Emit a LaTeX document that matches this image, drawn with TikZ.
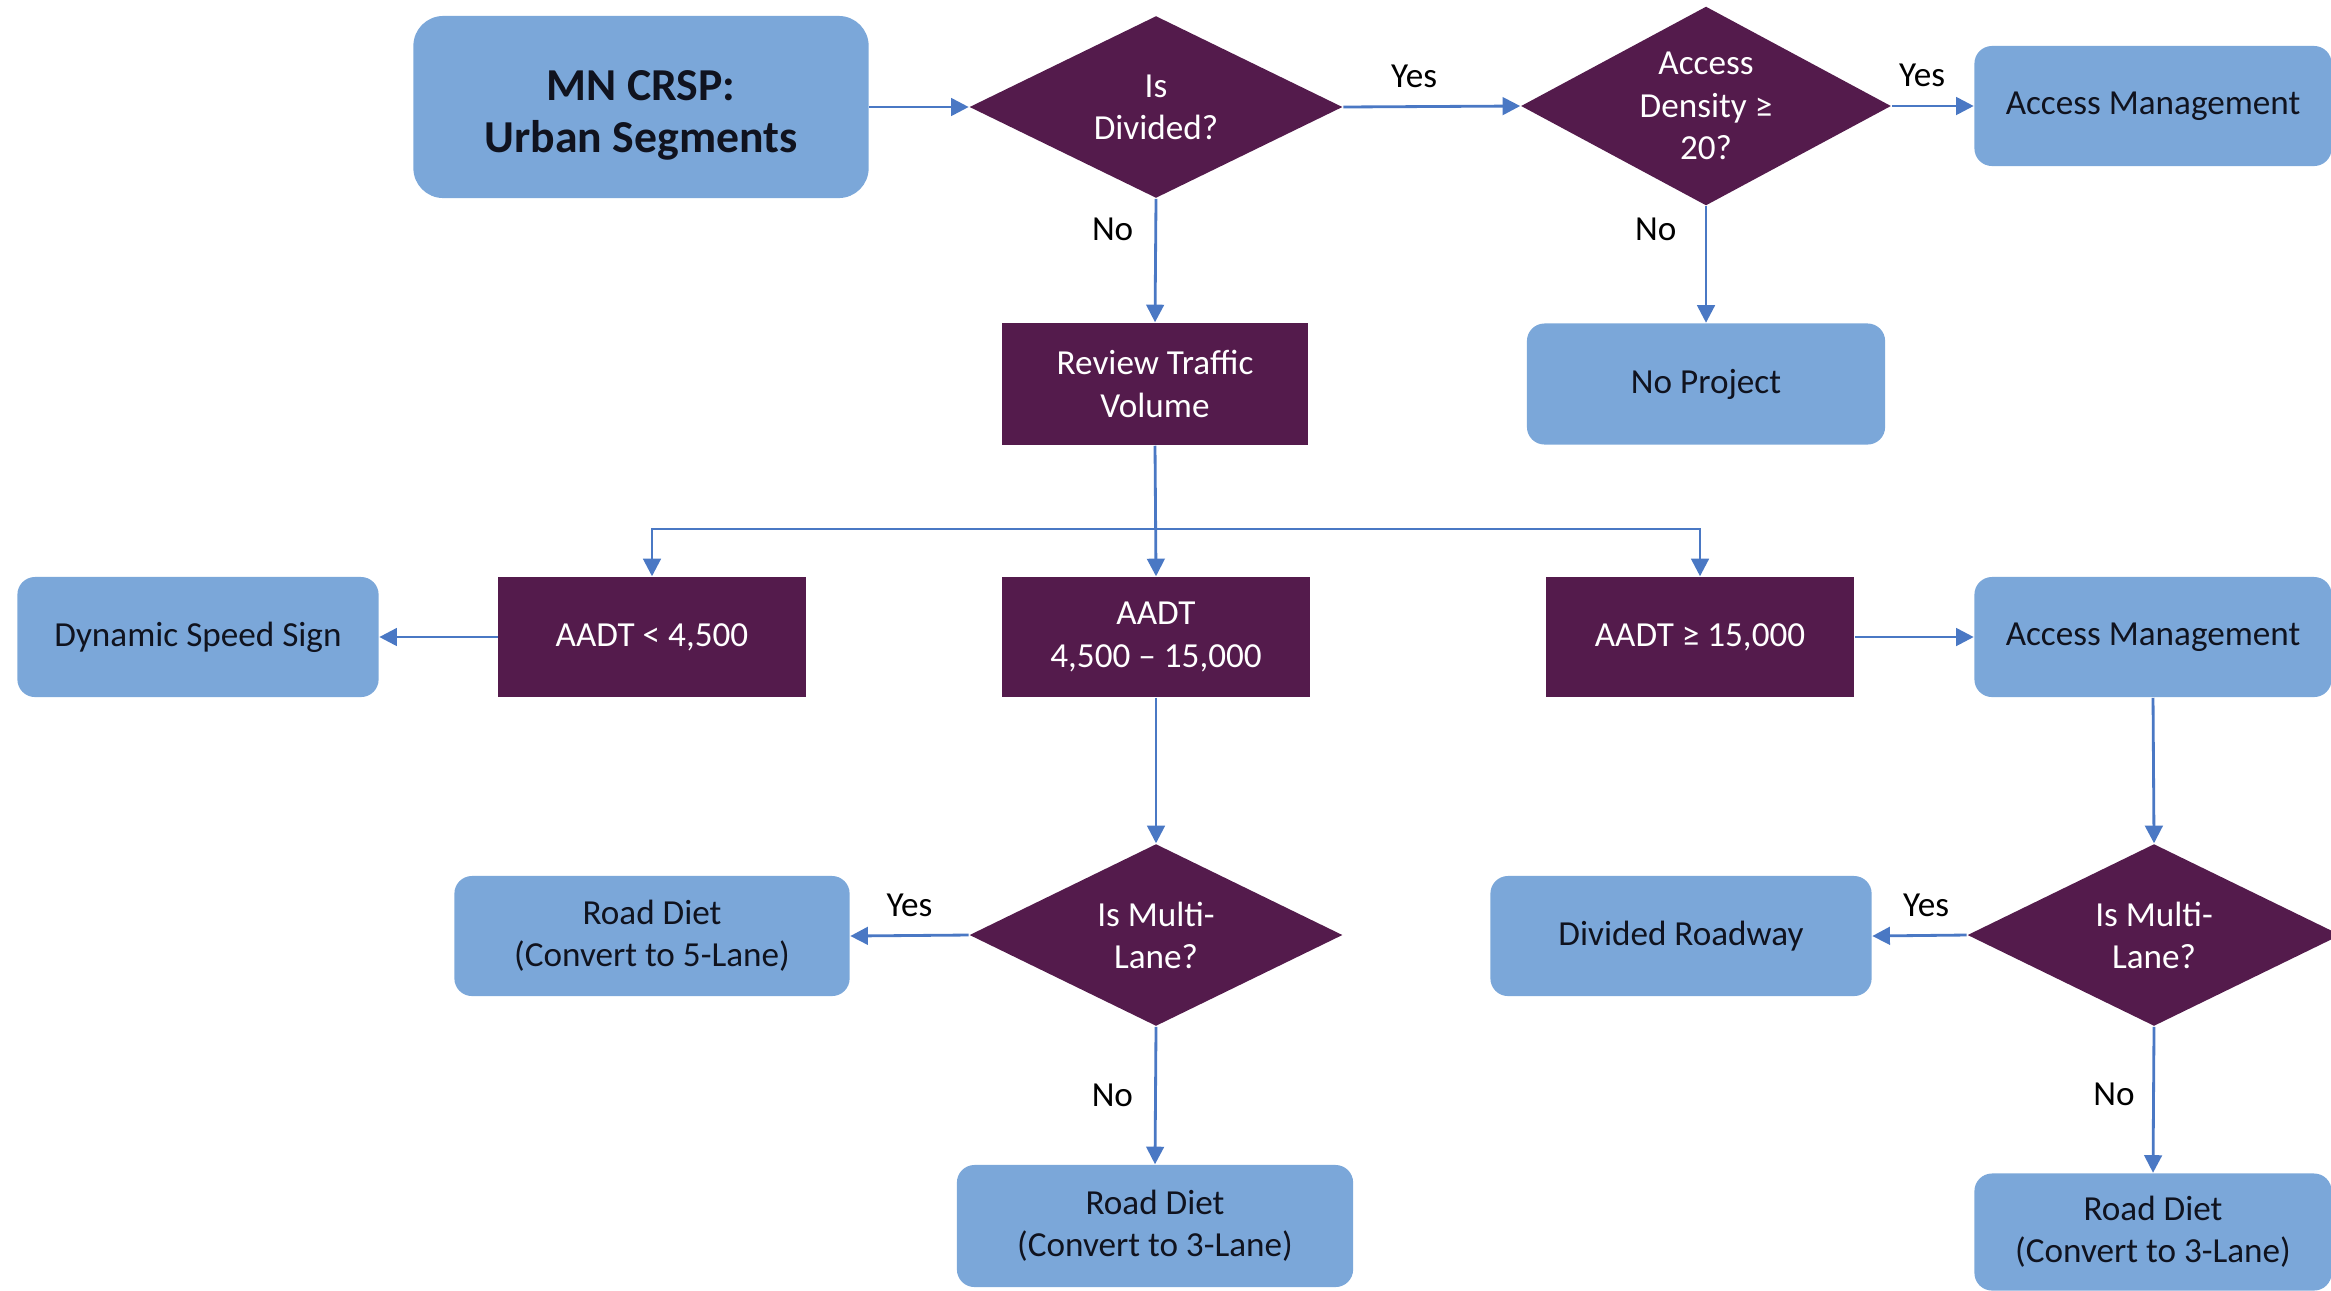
\documentclass[tikz,border=0pt]{standalone}
\usepackage{fontspec}
\setmainfont{Carlito}
\usepackage{xcolor}
\usetikzlibrary{shapes.geometric, arrows.meta, positioning}
\definecolor{resultcolor}{HTML}{7BA7D9}
\definecolor{choicecolor}{HTML}{541B4C}
\definecolor{linkcolor}{HTML}{4A78C4}
\definecolor{inkcolor}{HTML}{10131F}

\begin{document}
\begin{tikzpicture}[x=0.01cm, y=-0.01cm, font=\fontsize{10}{12}\selectfont,
    result/.style={rectangle, rounded corners=5pt, fill=resultcolor, text=inkcolor, align=center, minimum height=1.2cm, inner sep=0pt},
    task/.style={rectangle, fill=choicecolor, text=white, align=center, minimum width=3.07cm, minimum height=1.2cm, inner sep=0pt},
    choice/.style={diamond, aspect=2, fill=choicecolor, text=white, align=center, minimum width=3.73cm, minimum height=1.82cm, inner sep=0pt},
    link/.style={draw=linkcolor, line width=0.8pt, -{Triangle[width=5pt, length=5pt]}},
    tag/.style={text=black, inner sep=3pt}]
    \useasboundingbox (0,0) rectangle (2331,1290);

    % Top row
    \node[result, rounded corners=8.5pt, minimum width=4.55cm, minimum height=1.82cm, font=\fontsize{13}{15}\selectfont\bfseries] (Start) at (641,107) {\rule{0pt}{2.1ex}MN CRSP:\\Urban Segments};
    \node[choice] (Div) at (1156,107) {Is\\Divided?};
    \node[choice, minimum width=3.70cm, minimum height=1.99cm] (Acc) at (1706,106) {Access\\Density ≥\\20?};
    \node[result, minimum width=3.57cm] (AMtop) at (2153,106) {Access Management};

    % Second row
    \node[task, minimum width=3.06cm, minimum height=1.22cm] (Review) at (1155,384) {Review Traffic\\Volume};
    \node[result, minimum width=3.58cm, minimum height=1.21cm] (NoProj) at (1706,384) {No Project};

    % Traffic volume classes
    \node[result, minimum width=3.61cm] (Dyn) at (198,637) {Dynamic Speed Sign};
    \node[task] (Low) at (652,637) {AADT < 4,500};
    \node[task, minimum width=3.08cm] (Mid) at (1156,637) {AADT\\4,500 – 15,000};
    \node[task, minimum width=3.08cm] (High) at (1700,637) {AADT ≥ 15,000};
    \node[result, minimum width=3.57cm] (AMmid) at (2153,637) {Access Management};

    % Multi-lane checks
    \node[result, minimum width=3.95cm] (Diet5) at (652,936) {Road Diet\\(Convert to 5-Lane)};
    \node[choice] (MultiL) at (1156,935) {Is Multi-\\Lane?};
    \node[result, minimum width=3.81cm] (DivRoad) at (1681,936) {Divided Roadway};
    \node[choice] (MultiR) at (2154,935) {Is Multi-\\Lane?};

    % Bottom row
    \node[result, minimum width=3.96cm, minimum height=1.22cm] (Diet3L) at (1155,1226) {Road Diet\\(Convert to 3-Lane)};
    \node[result, minimum width=3.57cm, minimum height=1.17cm] (Diet3R) at (2153,1232) {Road Diet\\(Convert to 3-Lane)};

    % Connectors
    \draw[link] (Start.east) -- (Div.west);
    \draw[link] (Div.east) -- node[tag, pos=0.4, above=2pt] {Yes} (Acc.west);
    \draw[link] (Acc.east) -- node[tag, pos=0.37, above=2pt] {Yes} (AMtop.west);
    \draw[link] (Acc.south) -- node[tag, pos=0.2, left=5pt] {No} (NoProj.north);
    \draw[link] (Div.south) -- node[tag, pos=0.25, left=3pt] {No} (Review.north);

    % Split by traffic volume
    \coordinate (split) at (1155,529);
    \draw[link] (Review.south) -- (Mid.north);
    \draw[link] (split) -| (Low.north);
    \draw[link] (split) -| (High.north);
    \draw[link] (Low.west) -- (Dyn.east);
    \draw[link] (High.east) -- (AMmid.west);

    \draw[link] (Mid.south) -- (MultiL.north);
    \draw[link] (MultiL.west) -- node[tag, midway, above=2pt] {Yes} (Diet5.east);
    \draw[link] (MultiL.south) -- node[tag, midway, left=3pt] {No} (Diet3L.north);

    \draw[link] (AMmid.south) -- (MultiR.north);
    \draw[link] (MultiR.west) -- node[tag, pos=0.43, above=2pt] {Yes} (DivRoad.east);
    \draw[link] (MultiR.south) -- node[tag, pos=0.46, left=2pt] {No} (Diet3R.north);
\end{tikzpicture}
\end{document}
